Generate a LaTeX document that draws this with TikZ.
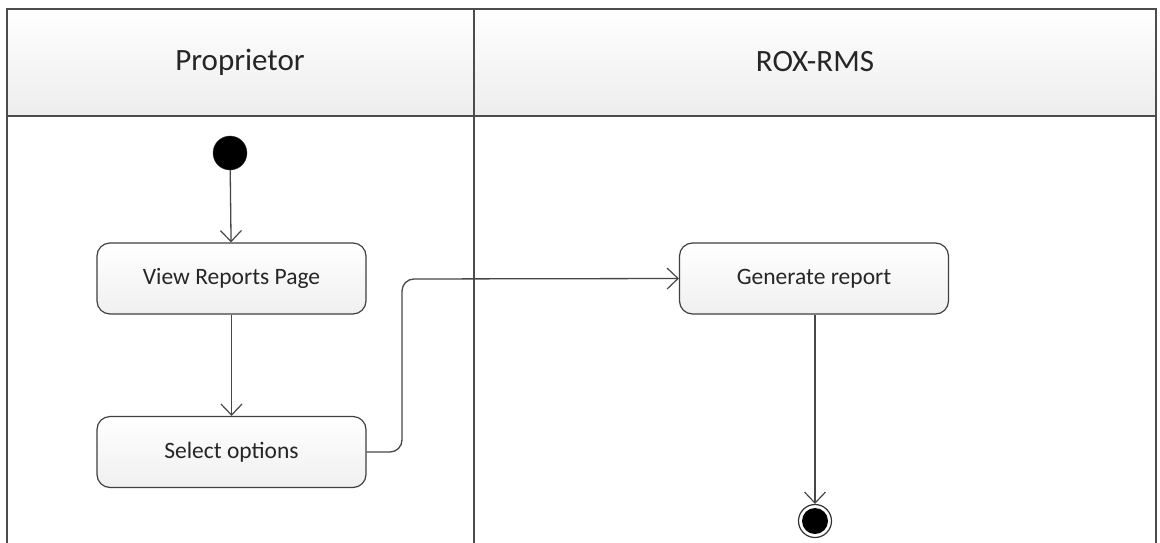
\documentclass[tikz,border=0pt]{standalone}
\usepackage{fontspec}
\setmainfont{Carlito}
\usetikzlibrary{arrows.meta}
\begin{document}
\begin{tikzpicture}[x=1pt,y=-1pt,
  lane/.style={draw=black!70,line width=1.3pt},
  header/.style={top color=white,bottom color=black!7,draw=black!70,line width=1.3pt},
  action/.style={draw=black!75,line width=1.2pt,rounded corners=13pt,
    top color=white,bottom color=black!6,minimum width=269pt,minimum height=71pt,
    font=\fontsize{23.5}{27}\selectfont,text=black!85},
  flow/.style={draw=black!72,line width=1.3pt,
    -{Straight Barb[length=11pt,width=21pt,line width=1.2pt]}},
  lanetitle/.style={font=\fontsize{31}{36}\selectfont,text=black!85}]
\useasboundingbox (0,0) rectangle (1160,542);
\fill[white] (0,0) rectangle (1160,542);
% swimlane headers
\path[header] (7,9) rectangle (474,116);
\path[header] (474,9) rectangle (1156,116);
\node[lanetitle] (lane1) at (240,62) {Proprietor};
\node[lanetitle] (lane2) at (815,62) {ROX-RMS};
% lane borders
\draw[lane] (7,116) -- (7,545);
\draw[lane] (474,116) -- (474,545);
\draw[lane] (1156,116) -- (1156,545);
% nodes
\node[circle,fill=black,draw=black!80,minimum size=34pt,inner sep=0pt] (start) at (230,153) {};
\node[action] (view) at (231.5,278.5) {View Reports Page};
\node[action] (select) at (231.5,452) {Select options};
\node[action] (gen) at (814,278.5) {Generate report};
\node[circle,draw=black!80,line width=1.2pt,fill=white,minimum size=33pt,inner sep=0pt] (end) at (815,521) {};
\fill[black] (end.center) circle (13pt);
% connectors
\draw[flow] (start) -- (view);
\draw[flow] (view) -- (select);
\draw[flow,rounded corners=12pt] (select.east) -- (402,452) -- (402,279) -- (gen.west);
\draw[flow] (gen.south -| end) -- (end);
\end{tikzpicture}
\end{document}
